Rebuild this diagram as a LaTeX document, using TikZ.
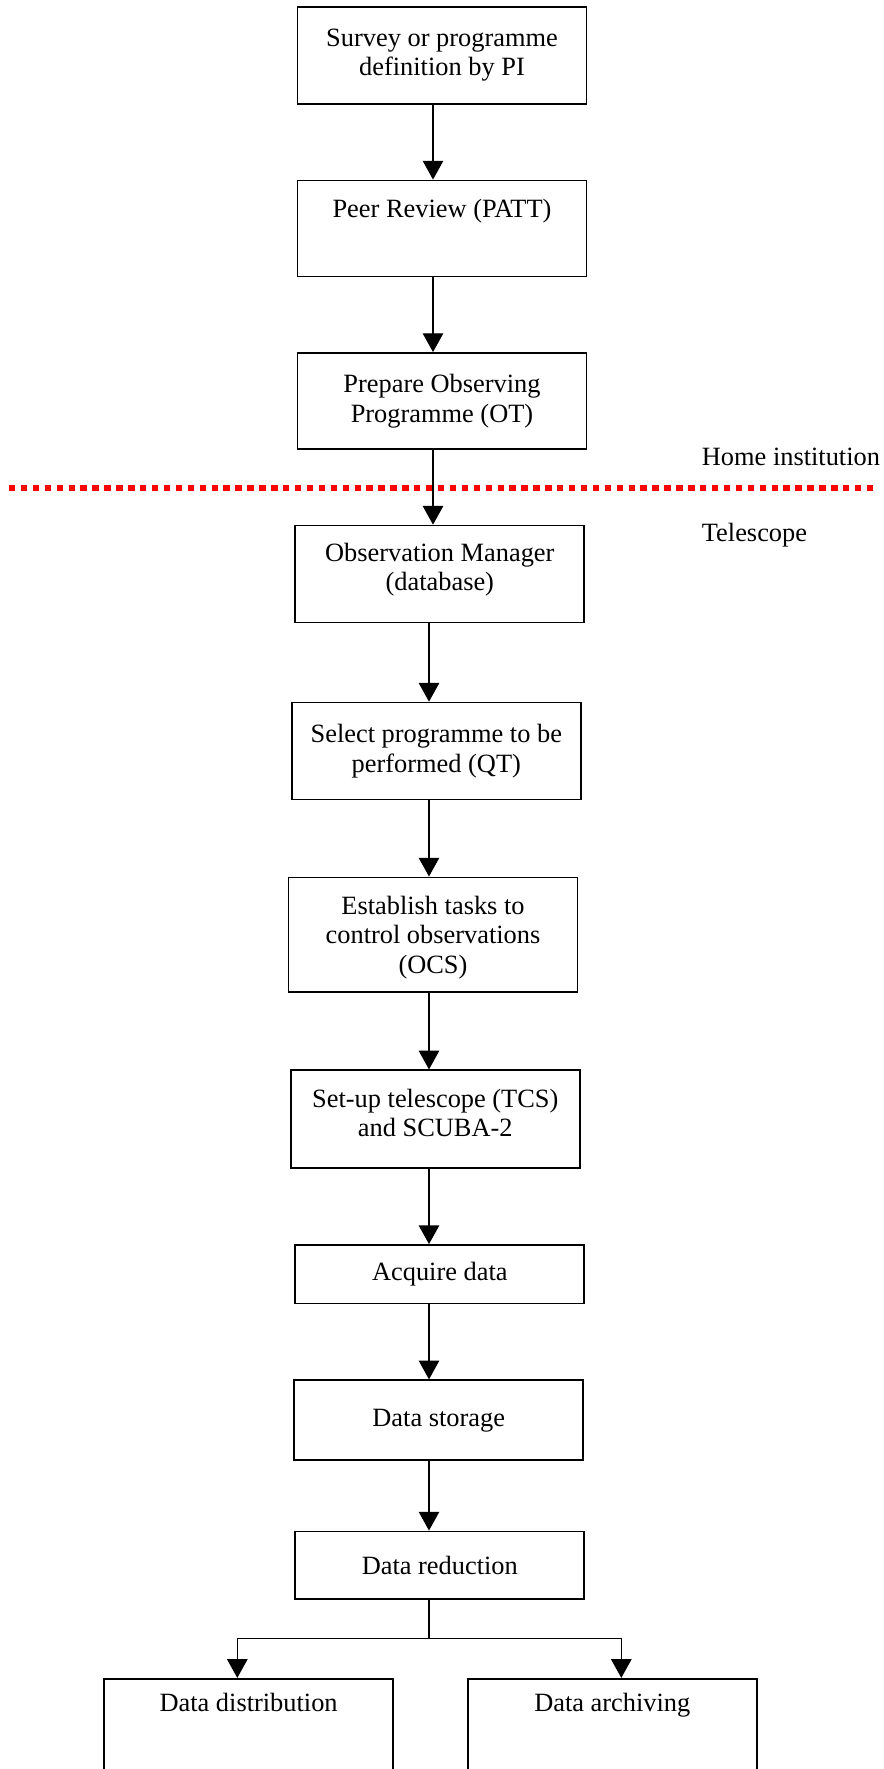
\documentclass[tikz,border=0pt]{standalone}
\usepackage{fontspec}
\setmainfont{Liberation Serif}
\usetikzlibrary{arrows.meta}
\tikzset{
  flowbox/.style={draw=black, line width=0.8pt, minimum width=135.8pt, align=center, inner sep=2pt, font=\fontsize{12.4pt}{14pt}\selectfont},
  flowarrow/.style={-{Triangle[length=8.8pt,width=9.6pt]}, line width=0.6pt},
  sidetext/.style={anchor=base west, inner sep=0pt, font=\fontsize{12.4pt}{14pt}\selectfont},
}
\begin{document}
\begin{tikzpicture}[x=0.47pt,y=-0.47pt]
\useasboundingbox (0,0) rectangle (884,1769);
\clip (0,0) rectangle (884,1769);

% columns of the arrows
\coordinate (upper) at (433,0);
\coordinate (lower) at (429,0);

% home institution part
\node[flowbox, minimum height=45.6pt] (survey) at (442,55.2) {Survey or programme\\definition by PI};
\node[flowbox, inner ysep=0pt, text height=17.5pt, text depth=27.6pt] (review) at (442,228.4) {Peer Review (PATT)};
\node[flowbox, minimum height=45.1pt] (prepare) at (442,400.9) {Prepare Observing\\Programme (OT)};

% dividing line
\coordinate (divleft) at (9,488.3);
\coordinate (divright) at (874,488.3);
\draw[red, line width=2.8pt, dash pattern=on 3pt off 2.6pt] (divleft) -- (divright);
\node[sidetext] (home) at (701.5,465) {Home institution};
\node[sidetext] (tele) at (701.5,541.7) {Telescope};

% telescope part
\node[flowbox, minimum height=45.6pt, text depth=6.8pt] (obsman) at (439.8,574) {Observation Manager\\(database)};
\node[flowbox, minimum height=45.6pt] (select) at (436.3,751) {Select programme to be\\performed (QT)};
\node[flowbox, minimum height=54pt, text depth=0pt] (tasks) at (433,934.8) {Establish tasks to\\control observations\\(OCS)};
\node[flowbox, minimum height=46pt, text depth=6pt] (setup) at (435.3,1119.2) {Set-up telescope (TCS)\\and SCUBA-2};
\node[flowbox, minimum height=27.5pt] (acquire) at (439.8,1274.2) {Acquire data};
\node[flowbox, minimum height=37.6pt] (storage) at (438.7,1420.2) {Data storage};
\node[flowbox, minimum height=31.8pt] (reduction) at (439.8,1565.2) {Data reduction};
\node[flowbox, anchor=north, inner ysep=0pt, text height=15.4pt, text depth=60pt] (distrib) at (248.6,1677.9) {Data distribution};
\node[flowbox, anchor=north, inner ysep=0pt, text height=15.4pt, text depth=60pt] (archive) at (612.3,1677.9) {Data archiving};

% arrows
\draw[flowarrow] (survey.south -| upper) -- (review.north -| upper);
\draw[flowarrow] (review.south -| upper) -- (prepare.north -| upper);
\draw[flowarrow] (prepare.south -| upper) -- (obsman.north -| upper);
\draw[flowarrow] (obsman.south -| lower) -- (select.north -| lower);
\draw[flowarrow] (select.south -| lower) -- (tasks.north -| lower);
\draw[flowarrow] (tasks.south -| lower) -- (setup.north -| lower);
\draw[flowarrow] (setup.south -| lower) -- (acquire.north -| lower);
\draw[flowarrow] (acquire.south -| lower) -- (storage.north -| lower);
\draw[flowarrow] (storage.south -| lower) -- (reduction.north -| lower);

% branching to the last two boxes
\coordinate (split) at (429,1638.5);
\coordinate (splitL) at (237.3,1638.5);
\coordinate (splitR) at (621.3,1638.5);
\draw[line width=0.6pt] (reduction.south -| lower) -- (split);
\draw[flowarrow] (split) -- (splitL) -- (distrib.north -| splitL);
\draw[flowarrow] (split) -- (splitR) -- (archive.north -| splitR);
\end{tikzpicture}
\end{document}
